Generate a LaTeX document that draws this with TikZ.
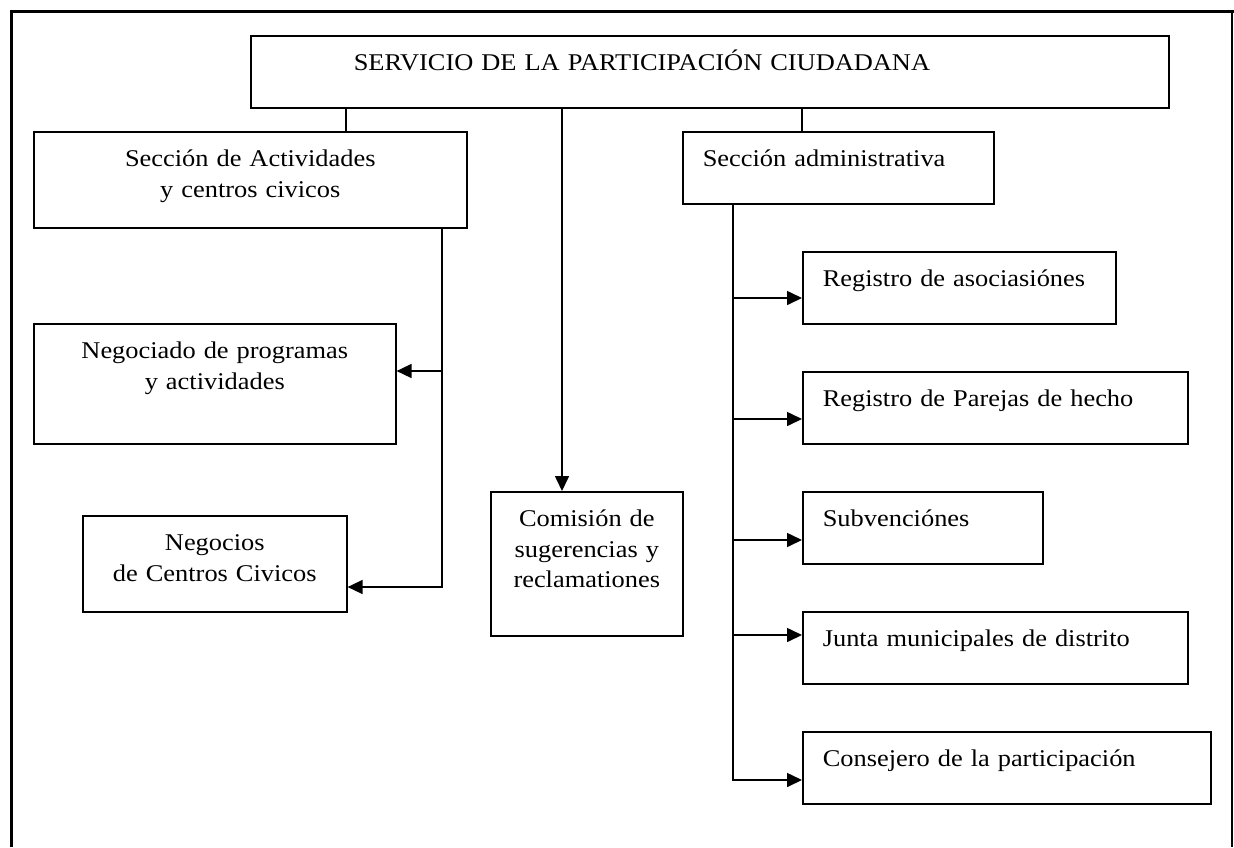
\documentclass[tikz,border=0pt]{standalone}
\usepackage{fontspec}
\setmainfont{Liberation Serif}[FakeStretch=1.1]
\usetikzlibrary{arrows.meta}

\begin{document}
\begin{tikzpicture}[x=1pt,y=-1pt,
		box/.style={draw, line width=1.6pt, inner ysep=0pt, anchor=north west, text height=35pt, font=\fontsize{24}{30.5}\selectfont},
		cbox/.style 2 args={box, align=center, inner xsep=0pt, text width=#1pt, text depth=#2pt},
		lbox/.style 2 args={box, align=left, inner xsep=20pt, text width=#1pt, text depth=#2pt},
		link/.style={line width=1.6pt},
		arrow/.style={link, -{Triangle[length=15pt,width=14pt]}}]
		\useasboundingbox (0,0) rectangle (1234,847);
		% frame
		\draw[line width=3.5pt] (11.5,847) -- (11.5,11.5) -- (1233.5,11.5);
		\draw[line width=2pt] (1232,11.5) -- (1232,847);
		
		% top box and first level
		\node[lbox={712}{37}, inner xsep=103pt] (servicio) at (250,35) {SERVICIO DE LA PARTICIPACIÓN CIUDADANA};
		\node[cbox={433}{61}] (actividades) at (33,131) {Sección de Actividades\\ y centros civicos};
		\node[lbox={271}{37}] (administrativa) at (682,131) {Sección administrativa};
		\node[cbox={192}{109}] (comision) at (490,491) {Comisión de\\ sugerencias y\\ reclamationes};
		
		% LEFT: under actividades
		\node[cbox={362}{85}] (negociado) at (33,323) {Negociado de programas\\ y actividades};
		\node[cbox={264}{61}] (negocios) at (82,515) {Negocios\\ de Centros Civicos};
		
		% RIGHT: under administrativa
		\foreach \n/\y/\w/\t in {asociaciones/251/273/Registro de asociasiónes,
			parejas/371/345/Registro de Parejas de hecho,
			subvenciones/491/200/Subvenciónes,
			junta/611/345/Junta municipales de distrito,
			consejero/731/368/Consejero de la participación}{
			\node[lbox={\w}{37}] (\n) at (802,\y) {\t};
		}
		
		% links from the top box
		\coordinate (a1) at ([xshift=96pt]servicio.south west);
		\coordinate (a2) at ([xshift=312pt]servicio.south west);
		\coordinate (a3) at ([xshift=552pt]servicio.south west);
		\draw[link] (a1) -- (a1 |- actividades.north);
		\draw[arrow] (a2) -- (a2 |- comision.north);
		\draw[link] (a3) -- (a3 |- administrativa.north);
		
		% left branch
		\coordinate (b0) at ([xshift=409pt]actividades.south west);
		\coordinate (b1) at ([yshift=-48pt]negociado.north east);
		\coordinate (b2) at ([yshift=-72pt]negocios.north east);
		\draw[arrow] (b0 |- b1) -- (b1);
		\draw[arrow] (b0) |- (b2);
		
		% right branch
		\coordinate (d0) at ([xshift=51pt]administrativa.south west);
		\draw[arrow] (d0) |- ([yshift=-49pt]consejero.north west);
		\foreach \n/\d in {asociaciones/47,parejas/48,subvenciones/49,junta/24}{
			\draw[arrow] ([yshift=-\d pt]\n.north west -| d0) -- ([yshift=-\d pt]\n.north west);
		}
	\end{tikzpicture}
\end{document}
